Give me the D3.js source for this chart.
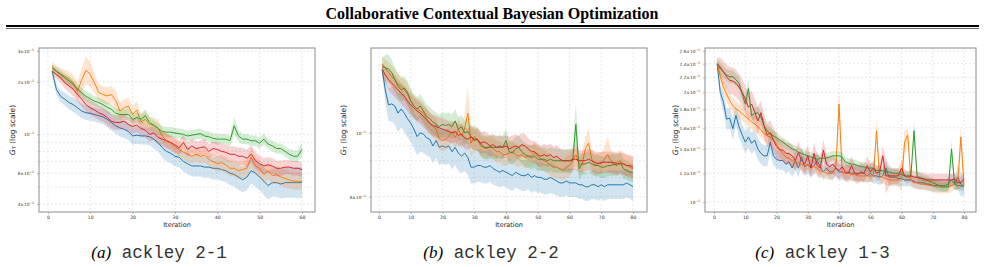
<!DOCTYPE html>
<html>
<head>
<meta charset="utf-8">
<script src="https://d3js.org/d3.v7.min.js"></script>
<style>
  body { margin: 0; background: #fff; }
  svg { display: block; }
</style>
</head>
<body>
<svg id="fig" width="985" height="267"></svg>
<script>
// ---- data ----
const colors = ["#1f77b4", "#ff7f0e", "#2ca02c", "#d62728"];

const a_blue = [0.230,0.181,0.165,0.159,0.152,0.148,0.142,0.136,0.133,0.132,0.130,0.128,0.126,0.122,0.117,0.112,0.109,0.107,0.104,0.098,0.099,0.098,0.098,0.097,0.094,0.090,0.084,0.080,0.078,0.075,0.074,0.070,0.068,0.066,0.066,0.066,0.065,0.065,0.064,0.064,0.063,0.062,0.060,0.059,0.057,0.055,0.057,0.062,0.060,0.057,0.054,0.051,0.053,0.053,0.052,0.053,0.053,0.053,0.053,0.053];
const a_orange = [0.246,0.230,0.222,0.215,0.208,0.197,0.177,0.206,0.233,0.220,0.197,0.174,0.169,0.166,0.169,0.157,0.136,0.142,0.145,0.130,0.138,0.118,0.122,0.114,0.113,0.109,0.098,0.092,0.089,0.085,0.082,0.079,0.077,0.075,0.077,0.075,0.076,0.072,0.070,0.068,0.069,0.067,0.064,0.064,0.062,0.063,0.064,0.074,0.066,0.064,0.059,0.062,0.058,0.059,0.057,0.056,0.055,0.054,0.054,0.054];
const a_green = [0.240,0.230,0.220,0.211,0.202,0.193,0.181,0.173,0.165,0.160,0.155,0.152,0.148,0.143,0.139,0.132,0.130,0.130,0.130,0.122,0.125,0.122,0.128,0.117,0.113,0.108,0.104,0.103,0.103,0.102,0.101,0.100,0.098,0.099,0.100,0.101,0.098,0.097,0.095,0.094,0.094,0.094,0.092,0.112,0.098,0.094,0.094,0.092,0.092,0.089,0.094,0.088,0.086,0.083,0.083,0.080,0.077,0.075,0.075,0.082];
const a_red = [0.230,0.220,0.211,0.197,0.189,0.181,0.169,0.159,0.148,0.142,0.138,0.133,0.130,0.125,0.119,0.117,0.117,0.119,0.114,0.111,0.113,0.108,0.106,0.100,0.102,0.096,0.094,0.092,0.090,0.087,0.084,0.090,0.082,0.086,0.083,0.084,0.085,0.080,0.083,0.082,0.080,0.079,0.077,0.077,0.075,0.075,0.073,0.077,0.071,0.068,0.066,0.067,0.066,0.064,0.064,0.065,0.065,0.064,0.064,0.063];
// band half-widths, percent
const a_blue_sp = [5,7,8,9,9,10,10,10,10,10,10,10,10,11,11,11,12,12,12,12,12,12,12,12,13,13,14,14,14,14,14,14,15,15,15,15,15,15,16,16,16,16,17,17,18,18,18,18,19,19,20,20,20,21,21,22,22,22,23,23];
const a_orange_sp = [6,7,8,9,10,11,13,17,20,18,15,12,12,12,12,14,12,12,12,12,12,11,11,11,11,11,11,10,10,10,10,10,10,10,10,10,10,10,10,11,11,11,11,11,12,12,12,15,12,12,12,12,12,12,12,12,12,12,12,12];
const a_green_sp = [5,6,6,6,7,7,7,7,7,7,7,7,7,7,7,7,7,7,7,7,7,7,9,7,7,7,7,7,7,7,7,7,7,7,7,7,7,7,7,7,7,7,7,12,8,7,7,7,7,7,8,7,7,7,7,7,7,8,8,10];
const a_red_sp = [5,6,7,8,9,10,10,10,10,10,10,10,10,10,10,10,10,10,10,10,10,10,10,10,10,10,10,10,10,10,10,10,10,10,10,10,10,10,10,10,10,11,11,11,12,12,12,12,12,11,11,11,11,11,11,10,10,10,10,10];

const b_blue = [0.166,0.141,0.125,0.126,0.124,0.117,0.121,0.117,0.112,0.108,0.103,0.097,0.100,0.099,0.096,0.095,0.090,0.094,0.089,0.090,0.089,0.090,0.086,0.089,0.085,0.083,0.085,0.082,0.076,0.076,0.077,0.077,0.076,0.076,0.077,0.075,0.074,0.073,0.074,0.073,0.072,0.071,0.073,0.072,0.071,0.071,0.072,0.070,0.071,0.070,0.070,0.069,0.069,0.070,0.069,0.068,0.067,0.067,0.068,0.067,0.067,0.067,0.066,0.066,0.065,0.065,0.066,0.066,0.065,0.066,0.065,0.066,0.066,0.066,0.066,0.066,0.066,0.067,0.066,0.065];
const b_orange = [0.173,0.168,0.162,0.157,0.153,0.147,0.145,0.141,0.136,0.129,0.124,0.121,0.119,0.117,0.112,0.108,0.105,0.103,0.095,0.094,0.095,0.097,0.101,0.096,0.103,0.097,0.104,0.117,0.092,0.097,0.095,0.090,0.089,0.088,0.090,0.088,0.086,0.086,0.084,0.084,0.085,0.086,0.084,0.083,0.084,0.082,0.083,0.083,0.085,0.083,0.081,0.080,0.079,0.077,0.076,0.076,0.075,0.074,0.076,0.077,0.080,0.084,0.078,0.078,0.088,0.092,0.081,0.077,0.079,0.078,0.081,0.084,0.080,0.077,0.079,0.080,0.078,0.077,0.076,0.075];
const b_green = [0.170,0.168,0.167,0.162,0.153,0.145,0.141,0.143,0.138,0.129,0.124,0.121,0.124,0.119,0.114,0.112,0.109,0.107,0.105,0.107,0.106,0.107,0.105,0.110,0.103,0.105,0.100,0.101,0.097,0.095,0.095,0.092,0.089,0.089,0.089,0.089,0.089,0.089,0.089,0.094,0.086,0.085,0.088,0.089,0.086,0.084,0.083,0.082,0.083,0.081,0.081,0.081,0.080,0.081,0.080,0.080,0.080,0.080,0.080,0.080,0.080,0.107,0.075,0.078,0.078,0.079,0.078,0.077,0.077,0.076,0.076,0.077,0.077,0.078,0.077,0.079,0.075,0.074,0.073,0.073];
const b_red = [0.166,0.159,0.153,0.149,0.145,0.141,0.137,0.134,0.129,0.125,0.122,0.119,0.117,0.114,0.111,0.108,0.106,0.105,0.104,0.103,0.102,0.101,0.100,0.101,0.098,0.099,0.096,0.095,0.097,0.094,0.095,0.092,0.093,0.092,0.090,0.091,0.089,0.090,0.089,0.090,0.088,0.089,0.090,0.089,0.091,0.090,0.088,0.086,0.086,0.084,0.083,0.084,0.083,0.084,0.082,0.083,0.081,0.080,0.080,0.080,0.081,0.081,0.080,0.080,0.080,0.081,0.080,0.079,0.078,0.079,0.079,0.079,0.079,0.079,0.078,0.078,0.078,0.077,0.077,0.076];
const b_blue_sp = [5,10,14,15,16,16,16,16,16,16,16,16,16,16,15,15,15,15,15,15,15,15,15,15,15,15,15,15,14,14,14,14,14,14,14,14,13,13,13,13,13,13,13,13,13,13,13,13,13,13,13,13,13,13,13,12,12,12,12,12,12,12,12,12,12,12,12,12,12,12,12,12,12,12,12,12,12,12,12,12];
const b_orange_sp = [6,7,8,9,9,9,9,9,9,9,9,9,9,9,9,9,9,9,9,9,9,9,9,9,10,10,12,25,12,10,9,9,9,9,9,9,9,9,9,9,9,9,9,9,9,9,9,9,9,9,9,9,9,9,9,9,9,9,9,9,9,9,9,9,10,12,9,9,9,9,10,15,10,9,9,9,9,9,9,9];
const b_green_sp = [7,11,12,11,10,10,10,10,10,10,10,10,10,10,10,10,10,10,10,10,10,10,10,10,10,10,10,10,10,10,10,10,10,10,10,10,10,10,10,10,10,10,10,10,10,10,10,10,10,10,10,10,10,10,10,10,10,10,10,10,10,18,10,9,9,9,9,9,9,9,9,9,9,9,9,9,8,8,8,8];
const b_red_sp = [5,7,8,9,9,9,9,9,9,9,9,9,9,9,9,9,9,9,9,9,9,9,9,9,9,9,9,9,9,9,9,9,9,9,9,9,9,9,9,9,10,10,10,10,10,10,9,9,9,9,9,9,9,9,9,9,9,9,9,9,9,9,9,9,9,9,9,9,9,9,9,9,9,9,9,9,9,9,9,9];

const c_blue = [0.239,0.200,0.188,0.169,0.170,0.159,0.173,0.161,0.153,0.146,0.151,0.145,0.148,0.140,0.136,0.134,0.134,0.146,0.134,0.131,0.130,0.130,0.127,0.129,0.124,0.130,0.124,0.133,0.125,0.127,0.124,0.126,0.130,0.125,0.121,0.124,0.121,0.121,0.124,0.121,0.121,0.120,0.121,0.120,0.120,0.120,0.120,0.120,0.118,0.120,0.118,0.118,0.117,0.118,0.124,0.117,0.117,0.117,0.116,0.116,0.115,0.115,0.115,0.114,0.113,0.113,0.113,0.112,0.112,0.111,0.111,0.111,0.111,0.111,0.112,0.115,0.112,0.117,0.112,0.110];
const c_orange = [0.239,0.221,0.207,0.198,0.190,0.184,0.180,0.178,0.175,0.172,0.169,0.166,0.164,0.161,0.158,0.154,0.152,0.151,0.148,0.144,0.140,0.136,0.133,0.132,0.130,0.129,0.128,0.127,0.126,0.126,0.125,0.125,0.124,0.122,0.121,0.120,0.120,0.120,0.125,0.186,0.121,0.120,0.120,0.119,0.119,0.118,0.118,0.118,0.118,0.118,0.118,0.157,0.117,0.117,0.116,0.115,0.115,0.115,0.115,0.115,0.146,0.153,0.115,0.113,0.113,0.112,0.112,0.112,0.111,0.111,0.110,0.110,0.110,0.110,0.110,0.111,0.112,0.113,0.151,0.111];
const c_green = [0.240,0.232,0.228,0.223,0.221,0.221,0.217,0.212,0.198,0.186,0.205,0.173,0.175,0.176,0.171,0.162,0.157,0.154,0.152,0.150,0.148,0.146,0.144,0.142,0.140,0.139,0.137,0.136,0.135,0.134,0.133,0.132,0.131,0.132,0.132,0.132,0.133,0.134,0.134,0.134,0.133,0.129,0.128,0.127,0.127,0.126,0.125,0.125,0.124,0.124,0.124,0.122,0.122,0.122,0.121,0.121,0.120,0.120,0.120,0.119,0.118,0.118,0.118,0.157,0.117,0.117,0.115,0.115,0.114,0.113,0.112,0.111,0.110,0.110,0.110,0.140,0.112,0.111,0.111,0.110];
const c_red = [0.240,0.235,0.228,0.221,0.216,0.215,0.212,0.207,0.200,0.192,0.182,0.186,0.177,0.167,0.176,0.162,0.153,0.155,0.148,0.142,0.139,0.139,0.136,0.136,0.134,0.130,0.137,0.130,0.127,0.134,0.124,0.136,0.126,0.124,0.139,0.127,0.125,0.127,0.124,0.122,0.125,0.121,0.120,0.126,0.120,0.119,0.121,0.120,0.126,0.121,0.124,0.120,0.121,0.134,0.118,0.118,0.118,0.118,0.118,0.124,0.118,0.117,0.118,0.117,0.117,0.116,0.116,0.115,0.115,0.115,0.115,0.115,0.115,0.115,0.115,0.115,0.116,0.113,0.113,0.116];
const c_blue_sp = [3,5,6,7,7,7,7,7,7,7,7,7,7,7,7,7,7,7,6,6,6,6,6,6,6,6,6,6,6,6,6,6,6,5,5,5,5,5,5,5,5,5,5,5,5,5,5,5,5,5,5,5,5,5,5,5,5,5,5,5,4,4,4,4,4,4,4,4,4,4,4,4,4,4,4,4,4,8,8,6];
const c_orange_sp = [3,4,5,5,5,5,5,5,5,5,5,5,5,5,5,5,5,5,5,5,5,5,4,4,4,4,4,4,4,4,4,4,4,4,4,4,4,4,5,10,4,4,4,4,4,4,4,4,4,4,4,8,4,4,4,4,4,4,4,8,8,4,4,4,4,4,4,4,4,4,4,4,4,4,4,4,4,5,8,5];
const c_green_sp = [3,4,4,4,4,4,4,4,4,5,7,4,4,4,4,4,4,4,4,4,3,3,3,3,3,3,3,3,3,3,3,3,3,3,3,3,3,3,3,3,3,3,3,3,3,3,3,3,3,3,3,3,3,3,3,3,3,3,3,3,3,3,3,7,3,3,3,3,3,3,3,3,3,3,3,6,3,3,3,3];
const c_red_sp = [4,6,7,8,9,9,9,9,9,9,9,9,9,9,8,8,8,8,8,8,7,7,7,7,7,7,7,7,7,7,7,7,7,7,7,6,6,6,6,6,6,6,6,6,6,6,6,6,6,6,5,5,5,6,12,7,5,5,5,5,4,4,4,4,4,4,4,4,4,4,4,4,4,4,4,4,4,4,4,4];

const xTicksA = [0,10,20,30,40,50,60];
const xTicksBC = [0,10,20,30,40,50,60,70,80];
const yTicksA = [0.3,0.2,0.1,0.06,0.04], yMinorA = [0.09,0.08,0.07,0.05];
const yTicksB = [0.1,0.06], yMinorB = [0.09,0.08,0.07];
const yTicksC = [0.26,0.24,0.22,0.2,0.18,0.16,0.14,0.12,0.1], yMinorC = [];

const captions = [["(a)", "ackley 2-1"], ["(b)", "ackley 2-2"], ["(c)", "ackley 1-3"]];

const panels = [
  { box: [39, 48, 315, 212], xd: [-2.1, 63.07], yd: [0.036, 0.312], xt: xTicksA, yt: yTicksA, ym: yMinorA, yl: 27,
    series: [[a_blue, a_blue_sp], [a_orange, a_orange_sp], [a_green, a_green_sp], [a_red, a_red_sp]], cap: captions[0] },
  { box: [371, 48, 647, 212], xd: [-2.5, 84.4], yd: [0.0531, 0.197], xt: xTicksBC, yt: yTicksB, ym: yMinorB, yl: 28,
    series: [[b_blue, b_blue_sp], [b_orange, b_orange_sp], [b_green, b_green_sp], [b_red, b_red_sp]], cap: captions[1] },
  { box: [705, 48, 976, 212], xd: [-2.9, 83.84], yd: [0.0939, 0.265], xt: xTicksBC, yt: yTicksC, ym: yMinorC, yl: 30,
    series: [[c_blue, c_blue_sp], [c_orange, c_orange_sp], [c_green, c_green_sp], [c_red, c_red_sp]], cap: captions[2] }
];

const svg = d3.select("#fig");
const sans = "DejaVu Sans, sans-serif";

// title + rules
svg.append("text").attr("x", 492).attr("y", 19).attr("text-anchor", "middle")
  .attr("font-family", "Liberation Serif, serif").attr("font-weight", "bold").attr("font-size", 16)
  .text("Collaborative Contextual Bayesian Optimization");
svg.append("line").attr("x1", 6).attr("x2", 979).attr("y1", 26).attr("y2", 26).attr("stroke", "#000").attr("stroke-width", 2);
svg.append("line").attr("x1", 6).attr("x2", 979).attr("y1", 28.5).attr("y2", 28.5).attr("stroke", "#000").attr("stroke-width", 0.6);

function sup(v) {
  const e = Math.floor(Math.log10(v) + 1e-9);
  const m = +(v / Math.pow(10, e)).toFixed(2);
  return { m: m === 1 ? "" : m + "\u00d7", e: "\u2212" + (-e) };
}

panels.forEach(p => {
  const [x0, y0, x1, y1] = p.box;
  const x = d3.scaleLinear().domain(p.xd).range([x0, x1]);
  const y = d3.scaleLog().domain(p.yd).range([y1, y0]);
  const g = svg.append("g");
  const clipId = "clip" + x0;
  svg.append("clipPath").attr("id", clipId).append("rect")
    .attr("x", x0).attr("y", y0).attr("width", x1 - x0).attr("height", y1 - y0);

  // grid
  const grid = g.append("g").attr("stroke", "#d8d8d8").attr("stroke-width", 0.6).attr("stroke-dasharray", "2,2");
  grid.selectAll(".gx").data(p.xt).join("line")
    .attr("x1", d => x(d)).attr("x2", d => x(d)).attr("y1", y0).attr("y2", y1);
  grid.selectAll(".gy").data(p.yt.concat(p.ym)).join("line")
    .attr("x1", x0).attr("x2", x1).attr("y1", d => y(d)).attr("y2", d => y(d));

  // series
  const plot = g.append("g").attr("clip-path", `url(#${clipId})`);
  p.series.forEach(([vals, sp], k) => {
    const pts = vals.map((v, i) => ({ i: i + 1, v, lo: v / (1 + sp[i] / 100), hi: v * (1 + sp[i] / 100) }));
    plot.append("path").datum(pts)
      .attr("fill", colors[k]).attr("fill-opacity", 0.2)
      .attr("d", d3.area().x(d => x(d.i)).y0(d => y(d.lo)).y1(d => y(d.hi)));
    plot.append("path").datum(pts)
      .attr("fill", "none").attr("stroke", colors[k]).attr("stroke-width", 1)
      .attr("d", d3.line().x(d => x(d.i)).y(d => y(d.v)));
  });

  // frame
  g.append("rect").attr("x", x0).attr("y", y0).attr("width", x1 - x0).attr("height", y1 - y0)
    .attr("fill", "none").attr("stroke", "#8c8c8c").attr("stroke-width", 1);

  // x axis
  const xa = g.append("g").attr("transform", `translate(0,${y1})`)
    .call(d3.axisBottom(x).tickValues(p.xt).tickSize(2).tickPadding(2).tickFormat(d3.format("d")));
  xa.select(".domain").remove();
  xa.selectAll("line").attr("stroke", "#8c8c8c").attr("stroke-width", 0.6);
  xa.selectAll("text").attr("font-family", sans).attr("font-size", 4.6).attr("fill", "#333");

  // y axis
  const ya = g.append("g").attr("transform", `translate(${x0},0)`)
    .call(d3.axisLeft(y).tickValues(p.yt).tickSize(2).tickPadding(3).tickFormat(""));
  ya.select(".domain").remove();
  ya.selectAll("line").attr("stroke", "#8c8c8c").attr("stroke-width", 0.6);
  ya.selectAll(".tick text").each(function (d) {
    const s = sup(d);
    const t = d3.select(this).attr("font-family", sans).attr("font-size", 4.3).attr("fill", "#333").text(s.m + "10");
    t.append("tspan").attr("dy", -2).attr("font-size", 3.1).text(s.e);
  });
  g.append("g").selectAll("line").data(p.ym).join("line")
    .attr("x1", x0 - 1.2).attr("x2", x0).attr("y1", d => y(d)).attr("y2", d => y(d))
    .attr("stroke", "#8c8c8c").attr("stroke-width", 0.5);

  // labels
  g.append("text").attr("x", (x0 + x1) / 2).attr("y", 226.5).attr("text-anchor", "middle")
    .attr("font-family", sans).attr("font-size", 6.5).attr("fill", "#222").text("Iteration");
  const yl = g.append("text").attr("transform", `translate(${x0 - p.yl + 2.5},${(y0 + y1) / 2}) rotate(-90)`)
    .attr("text-anchor", "middle").attr("font-family", sans).attr("font-size", 7.5).attr("fill", "#222");
  yl.append("tspan").attr("font-style", "italic").text("G");
  yl.append("tspan").attr("font-size", 5).attr("dy", 1.5).text("T");
  yl.append("tspan").attr("dy", -1.5).text(" (log scale)");

  // caption
  const cap = svg.append("text").attr("x", (x0 + x1) / 2 - 18).attr("y", 258).attr("text-anchor", "middle");
  cap.append("tspan").attr("font-family", "Liberation Serif, serif").attr("font-style", "italic").attr("font-size", 17).text(p.cap[0]);
  cap.append("tspan").attr("font-family", "Liberation Mono, monospace").attr("font-size", 17.5).attr("fill", "#333").text(" " + p.cap[1]);
});
</script>
</body>
</html>
